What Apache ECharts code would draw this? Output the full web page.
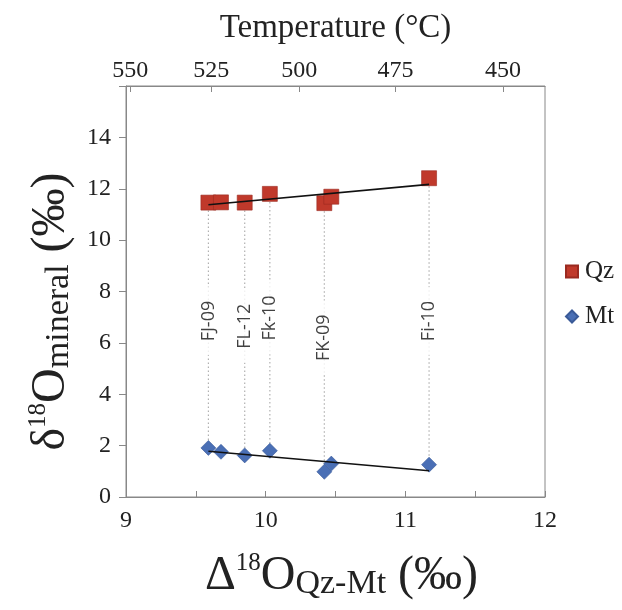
<!DOCTYPE html>
<html>
<head>
<meta charset="utf-8">
<script src="https://cdn.jsdelivr.net/npm/echarts@6/dist/echarts.min.js"></script>
<style>html,body{margin:0;padding:0;background:#fff;}#c{width:622px;height:610px;}</style>
</head>
<body>
<div id="c"></div>
<script>
// ---- data ----
var deltaQzMt = [9.59, 9.68, 9.85, 10.03, 10.42, 10.47, 11.17];
var qzValues  = [11.46, 11.47, 11.46, 11.80, 11.44, 11.69, 12.41];
var mtValues  = [1.91, 1.76, 1.62, 1.80, 0.98, 1.30, 1.26];
var qzTrend   = [[9.59, 11.38], [11.17, 12.17]];
var mtTrend   = [[9.59, 1.78], [11.17, 1.02]];
var sampleNames = ['FJ-09', 'FL-12', 'Fk-10', 'FK-09', 'Fi-10'];
var sampleIdx   = [0, 2, 3, 4, 6];
var sampleLabelY = [6.85, 6.65, 6.97, 6.2, 6.85];
var tempLabels = ['550', '525', '500', '475', '450'];
var tempTickDelta = [9.03, 9.61, 10.24, 10.93, 11.70];

// ---- build ----
var serif = 'Liberation Serif';
var chart = echarts.init(document.getElementById('c'), null, {renderer: 'canvas'});

var dotData = [];
sampleIdx.forEach(function (i) {
  dotData.push([deltaQzMt[i], qzValues[i]]);
  dotData.push([deltaQzMt[i], mtValues[i]]);
  dotData.push(null);
});
var labelData = sampleNames.map(function (n, k) {
  return {name: n, value: [deltaQzMt[sampleIdx[k]], sampleLabelY[k]]};
});

function richName() {
  return {
    d: {fontFamily: serif, fontSize: 48, color: '#222'},
    sup: {fontFamily: serif, fontSize: 25, color: '#222', verticalAlign: 'top', padding: [0, 0, 20, 0]},
    sub: {fontFamily: serif, fontSize: 34, color: '#222', verticalAlign: 'bottom', padding: [16, 0, 0, 0]}
  };
}

var option = {
  animation: false,
  backgroundColor: '#fff',
  grid: {left: 126, right: 77, top: 86, bottom: 113, show: true, borderColor: '#888', borderWidth: 1, backgroundColor: 'transparent'},
  legend: {
    orient: 'vertical', left: 560, top: 254, itemGap: 20, itemWidth: 12, itemHeight: 12,
    textStyle: {fontFamily: serif, fontSize: 25, color: '#222', padding: [0, 0, 0, 2]},
    data: [{name: 'Qz', icon: 'rect'}, {name: 'Mt', icon: 'diamond'}]
  },
  xAxis: [{
    type: 'value', min: 9, max: 12, interval: 0.5, position: 'bottom',
    name: '{d|Δ}{sup|18}{d|O}{sub|Qz-Mt}{d| (‰)}',
    nameLocation: 'middle', nameGap: 54,
    nameTextStyle: {fontFamily: serif, color: '#222', padding: [0, 0, 0, 12], rich: richName()},
    axisLine: {lineStyle: {color: '#888'}},
    axisTick: {inside: true, length: 6, lineStyle: {color: '#888'}},
    axisLabel: {fontFamily: serif, fontSize: 24, color: '#222', margin: 12,
      formatter: function (v) { return Math.abs(v - Math.round(v)) < 1e-6 ? String(Math.round(v)) : ''; }},
    splitLine: {show: false}
  }, {
    type: 'value', min: 9, max: 12, position: 'top',
    name: 'Temperature (°C)', nameLocation: 'middle', nameGap: 41,
    nameTextStyle: {fontFamily: serif, fontSize: 33, color: '#222'},
    axisLine: {lineStyle: {color: '#888'}},
    axisTick: {inside: true, length: 6, customValues: tempTickDelta, lineStyle: {color: '#888'}},
    axisLabel: {fontFamily: serif, fontSize: 24, color: '#222', margin: 3, customValues: tempTickDelta,
      formatter: function (v) {
        for (var k = 0; k < tempTickDelta.length; k++) {
          if (Math.abs(v - tempTickDelta[k]) < 1e-6) return tempLabels[k];
        }
        return '';
      }},
    splitLine: {show: false}
  }],
  yAxis: {
    type: 'value', min: 0, max: 16, interval: 2,
    name: '{d|δ}{sup|18}{d|O}{sub|mineral}{d| (‰)}',
    nameLocation: 'middle', nameRotate: 90, nameGap: 46,
    nameTextStyle: {fontFamily: serif, color: '#222', padding: [0, 40, 0, 0], rich: richName()},
    axisLine: {show: true, lineStyle: {color: '#888'}},
    axisTick: {show: true, inside: false, length: 7, lineStyle: {color: '#888'}},
    axisLabel: {fontFamily: serif, fontSize: 24, color: '#222', margin: 15,
      formatter: function (v) { return v >= 16 ? '' : String(v); }},
    splitLine: {show: false}
  },
  series: [
    {
      type: 'line', xAxisIndex: 0, data: dotData, showSymbol: false, symbol: 'none', connectNulls: false,
      lineStyle: {color: '#b0b0b0', width: 1.2, type: [1.5, 2.5]}, z: 1, silent: true
    },
    {
      type: 'scatter', xAxisIndex: 0, data: labelData, symbolSize: 0, z: 2, silent: true,
      label: {show: true, position: 'inside', rotate: 90, formatter: '{b}',
        fontFamily: 'Open Sans', fontSize: 18, color: '#111',
        backgroundColor: '#fff', padding: [0, 14, 0, 14]}
    },
    {
      name: 'Qz', type: 'scatter', xAxisIndex: 0, symbol: 'rect', symbolSize: 15, z: 3,
      itemStyle: {color: '#c0392b', borderColor: '#9a2a20', borderWidth: 0.6, opacity: 1},
      data: deltaQzMt.map(function (x, i) { return [x, qzValues[i]]; })
    },
    {
      name: 'Mt', type: 'scatter', xAxisIndex: 0, symbol: 'diamond', symbolSize: 15, z: 3,
      itemStyle: {color: '#4a6fb5', borderColor: '#3a5a98', borderWidth: 0.6, opacity: 1},
      data: deltaQzMt.map(function (x, i) { return [x, mtValues[i]]; })
    },
    {
      type: 'line', xAxisIndex: 0, data: qzTrend, symbol: 'none', z: 4, silent: true,
      lineStyle: {color: '#111', width: 1.6}
    },
    {
      type: 'line', xAxisIndex: 0, data: mtTrend, symbol: 'none', z: 4, silent: true,
      lineStyle: {color: '#111', width: 1.6}
    }
  ]
};
chart.setOption(option);
</script>
</body>
</html>
